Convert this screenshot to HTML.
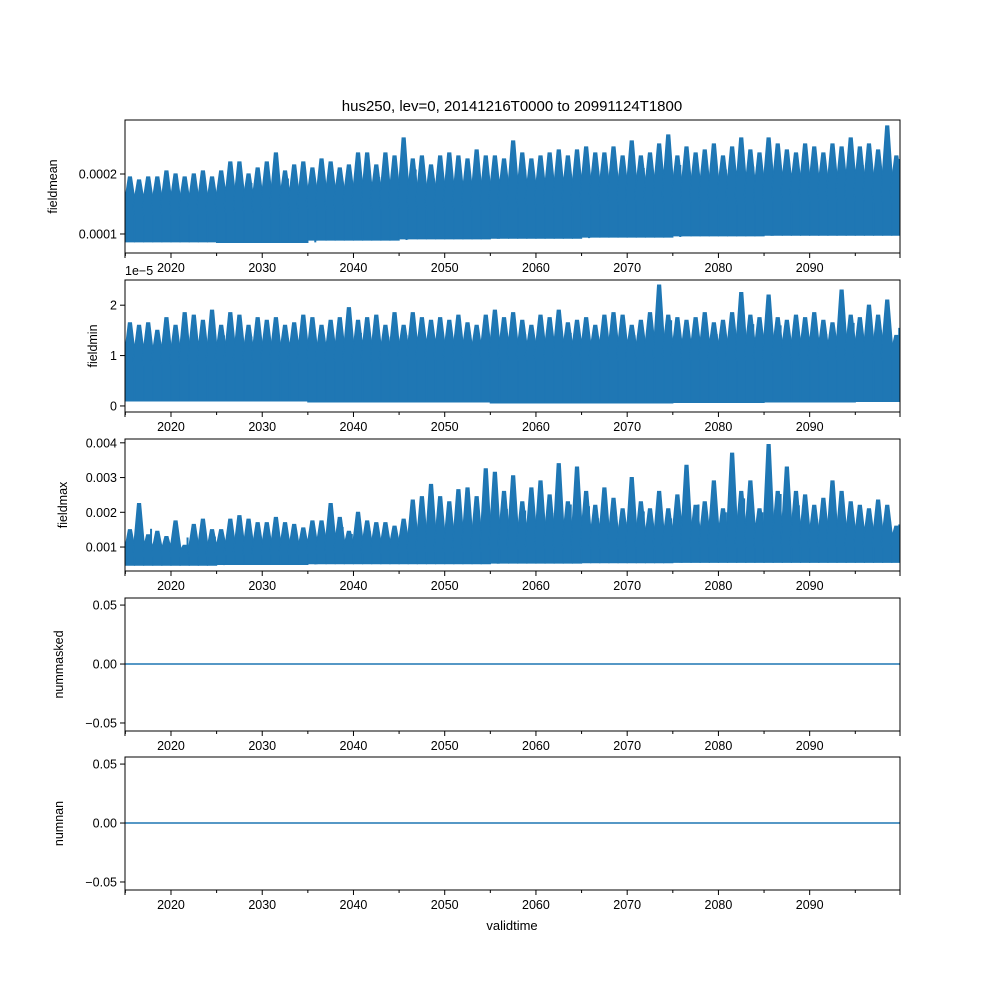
<!DOCTYPE html>
<html><head><meta charset="utf-8"><style>
body{margin:0;background:#fff}
svg{display:block;font-family:"Liberation Sans","DejaVu Sans",sans-serif}
</style></head><body>
<svg id="chart" width="1000" height="1000" viewBox="0 0 1000 1000" xmlns="http://www.w3.org/2000/svg">
<rect width="1000" height="1000" fill="#fff"/>
<text x="512" y="111" font-size="15" text-anchor="middle">hus250, lev=0, 20141216T0000 to 20991124T1800</text>
<text x="512" y="930" font-size="13" text-anchor="middle">validtime</text>
</svg>
<script>
// Yearly seasonal peaks (per year starting 2015)
const fieldmeanPeaks = [1.95,1.9,1.95,1.95,2.05,2.0,1.95,2.0,2.05,1.95,2.05,2.2,2.2,2.0,2.1,2.2,2.35,2.05,2.15,2.2,2.1,2.25,2.2,2.1,2.15,2.35,2.35,2.15,2.35,2.3,2.6,2.25,2.3,2.15,2.3,2.35,2.3,2.25,2.4,2.3,2.3,2.25,2.55,2.35,2.25,2.3,2.35,2.4,2.3,2.4,2.45,2.35,2.35,2.45,2.3,2.55,2.3,2.35,2.5,2.65,2.3,2.45,2.35,2.4,2.5,2.3,2.45,2.6,2.4,2.35,2.6,2.5,2.4,2.35,2.5,2.45,2.35,2.5,2.45,2.6,2.45,2.5,2.4,2.8,2.3];
const fieldmeanLow = [0.87,0.86,0.9,0.92,0.93,0.95,0.97,0.98,0.98];
const fieldmeanBand = [1.45,1.5,1.55,1.55,1.6,1.65,1.65,1.7,1.7];
const fieldminPeaks = [1.65,1.6,1.65,1.5,1.75,1.6,1.85,1.8,1.7,1.9,1.6,1.85,1.8,1.6,1.75,1.7,1.75,1.6,1.65,1.8,1.75,1.6,1.7,1.75,1.95,1.7,1.75,1.8,1.6,1.85,1.6,1.85,1.75,1.7,1.75,1.7,1.8,1.65,1.6,1.8,1.9,1.75,1.85,1.7,1.6,1.8,1.75,1.9,1.65,1.7,1.75,1.6,1.8,1.85,1.8,1.6,1.7,1.85,2.4,1.8,1.75,1.7,1.75,1.85,1.65,1.7,1.85,2.25,1.8,1.75,2.2,1.75,1.7,1.8,1.75,1.85,1.7,1.65,2.3,1.8,1.75,2.0,1.8,2.1,1.4];
const fieldminLow = [0.1,0.1,0.08,0.08,0.06,0.06,0.07,0.08,0.09];
const fieldminBand = [0.9,0.95,0.95,1.0,1.0,1.0,1.0,1.0,1.0];
const fieldmaxPeaks = [1.5,2.25,1.35,1.45,1.3,1.75,1.05,1.65,1.8,1.5,1.5,1.8,1.9,1.8,1.7,1.7,1.85,1.7,1.65,1.55,1.75,1.75,2.25,1.85,1.45,2.0,1.75,1.7,1.7,1.6,1.8,2.35,2.45,2.8,2.45,2.3,2.65,2.7,2.45,3.25,3.15,2.6,3.05,2.3,2.7,2.9,2.5,3.4,2.3,3.3,2.6,2.2,2.7,2.4,2.1,3.0,2.3,2.1,2.6,2.1,2.5,3.35,2.2,2.3,2.9,2.1,3.7,2.6,2.9,2.1,3.95,2.6,3.3,2.6,2.5,2.2,2.4,2.9,2.6,2.3,2.2,2.1,2.35,2.2,1.6];
const fieldmaxLow = [0.48,0.5,0.52,0.52,0.54,0.55,0.56,0.56,0.56];
const fieldmaxBand = [0.8,0.85,0.9,0.95,1.05,1.05,1.1,1.1,1.1];
const xTickLabels = ["2020","2030","2040","2050","2060","2070","2080","2090"];
const p1Ticks = ["0.0001","0.0002"]; const p1TickVals=[1e-4,2e-4];
const p2Ticks = ["0","1","2"]; const p2TickVals=[0,1,2];
const p3Ticks = ["0.001","0.002","0.003","0.004"]; const p3TickVals=[0.001,0.002,0.003,0.004];
const p45Ticks = ["−0.05","0.00","0.05"]; const p45TickVals=[-0.05,0,0.05];

const NS="http://www.w3.org/2000/svg", svg=document.getElementById('chart');
const X0=125,X1=900, T0=2014.96, T1=2099.9;
const xs=t=>X0+(t-T0)/(T1-T0)*(X1-X0);
function mk(tag,attrs,parent){const e=document.createElementNS(NS,tag);for(const k in attrs)e.setAttribute(k,attrs[k]);(parent||svg).appendChild(e);return e;}
const C="#1f77b4";
function panel(name,top,bot,ymin,ymax,tickVals,tickLabels,ylabel,scale,peaks,lows,bands,isFlat){
  const g=mk('g',{});
  
  
  const ys=v=>bot-(v-ymin)/(ymax-ymin)*(bot-top);
  const clip=mk('clipPath',{id:'c'+name},g);mk('rect',{x:X0,y:top,width:X1-X0,height:bot-top},clip);
  const dg=mk('g',{'clip-path':'url(#c'+name+')'},g);
  if(isFlat){
    const l=mk('line',{x1:X0,x2:X1,y1:ys(0),y2:ys(0),stroke:C,'stroke-width':1.5},dg);
    
    
  } else {
    peaks.forEach((p,i)=>{
      const y=2015+i, d=Math.min(8,Math.floor(i/10));
      const lo=lows[d]*scale, bd=bands[d]*scale, pk=p*scale;
      const a=xs(y), b=xs(y+1), mid=xs(y+0.5);
      const path=`M${a},${ys(lo)} L${b},${ys(lo)} L${b},${ys(bd*0.9)} L${mid+6},${ys(bd)} L${mid+1.5},${ys(pk)} L${mid-1.5},${ys(pk)} L${mid-6},${ys(bd)} L${a},${ys(bd*0.9)} Z`;
      const e=mk('path',{d:path,fill:C,stroke:C,'stroke-width':1.2},dg);
      
      
      const s=mk('line',{x1:mid+12,x2:mid+12,y1:ys(lo),y2:ys((bd+pk)/2),stroke:C,'stroke-width':2},dg);
      
      
    });
  }
  mk('rect',{x:X0,y:top,width:X1-X0,height:bot-top,fill:'none',stroke:'#000','stroke-width':1},g);
  xTickLabels.forEach((lab,i)=>{const t=+lab,x=xs(t);
    mk('line',{x1:x,x2:x,y1:bot,y2:bot+5,stroke:'#000'},g);
    const tx=mk('text',{x:x,y:bot+19,'font-size':12.5,'text-anchor':'middle'},g);tx.textContent=lab;
    
    
    const m=xs(t-5);mk('line',{x1:m,x2:m,y1:bot,y2:bot+3,stroke:'#000'},g);});
  [2095].forEach(t=>{const m=xs(t);mk('line',{x1:m,x2:m,y1:bot,y2:bot+3,stroke:'#000'},g);});
  mk('line',{x1:X0,x2:X0,y1:bot,y2:bot+5,stroke:'#000'},g);
  mk('line',{x1:X1,x2:X1,y1:bot,y2:bot+5,stroke:'#000'},g);
  tickVals.forEach((v,i)=>{const y=ys(v);
    mk('line',{x1:X0-5,x2:X0,y1:y,y2:y,stroke:'#000'},g);
    const tx=mk('text',{x:X0-8,y:y+4.5,'font-size':12.5,'text-anchor':'end'},g);tx.textContent=tickLabels[i];
    
    });
  const yl=mk('text',{x:0,y:0,'font-size':12.5,'text-anchor':'middle',transform:`translate(${name==='fieldmean'?57:name==='fieldmin'?97:name==='fieldmax'?67:63},${(top+bot)/2}) rotate(-90)`},g);
  yl.textContent=ylabel;
  
  
}
panel('fieldmean',120,253,0.0000683,0.00029,p1TickVals,p1Ticks,'fieldmean',1e-4,fieldmeanPeaks,fieldmeanLow,fieldmeanBand);
panel('fieldmin',280,412,-0.12,2.5,p2TickVals,p2Ticks,'fieldmin',1,fieldminPeaks,fieldminLow,fieldminBand);
panel('fieldmax',439,571,0.00031,0.00411,p3TickVals,p3Ticks,'fieldmax',1e-3,fieldmaxPeaks,fieldmaxLow,fieldmaxBand);
panel('nummasked',598,731,-0.0568,0.056,p45TickVals,p45Ticks,'nummasked',1,null,null,null,true);
panel('numnan',757,890,-0.0568,0.056,p45TickVals,p45Ticks,'numnan',1,null,null,null,true);
const off=mk('text',{x:125,y:275,'font-size':12.5});off.textContent='1e−5';


</script>
</body></html>
